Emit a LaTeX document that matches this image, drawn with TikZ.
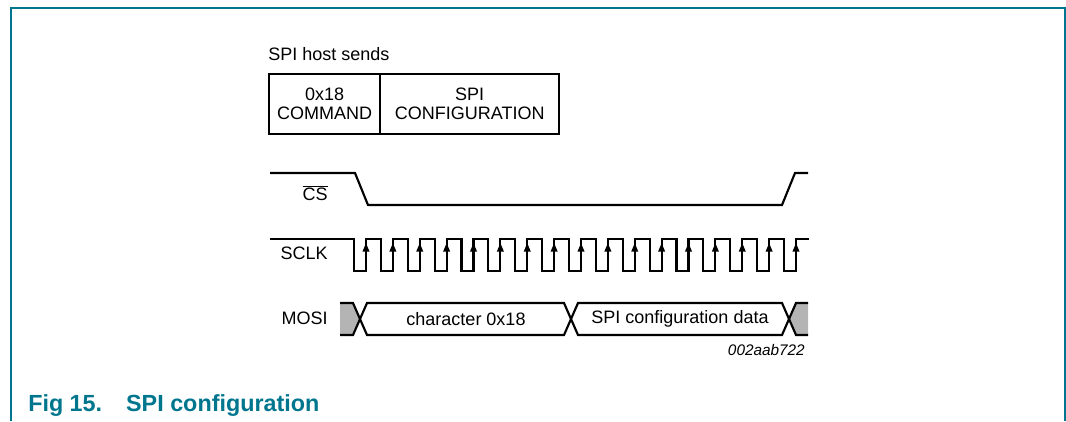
\documentclass[tikz,border=0pt]{standalone}
\usepackage{fontspec}
\setmainfont{Liberation Sans}
\usetikzlibrary{arrows.meta, positioning}
\definecolor{nxpteal}{RGB}{0,118,142}
\definecolor{busgray}{RGB}{180,180,180}

\begin{document}
\begin{tikzpicture}[x = 0.75pt, y = -0.75pt,
	wave/.style = {line width = 1.6pt, line join = miter},
	siglabel/.style = {anchor = east, inner sep = 0pt, font = \fontsize{13.5}{16}\selectfont},
	buslabel/.style = {inner sep = 0pt, font = \fontsize{13.5}{16}\selectfont},
	hostbox/.style = {draw, line width = 1.6pt, minimum height = 45pt, inner sep = 0pt, align = center, font = \fontsize{13.5}{14.25}\selectfont},
	clkarrow/.style = {-{Triangle[length = 6.5pt, width = 5pt]}, line width = 1.2pt}]

	% Definition

	\def\T{26.875}
	\def\hi{239}
	\def\lo{271}
	\def\bt{303}
	\def\bb{335}
	\def\bm{319}

	\useasboundingbox (0, 0) rectangle (1066, 421);

	% Frame and caption

	\draw [nxpteal, line width = 1pt] (11, 421) -- (11, 8) -- (1065, 8) -- (1065, 421);
	\node [anchor = base west, inner sep = 0pt, text = nxpteal, font = \fontsize{17.5}{20}\selectfont\bfseries] (caption) at (28, 411) {Fig 15.\hspace*{18pt}SPI configuration};

	% What the host sends

	\node [anchor = west, inner sep = 0pt, font = \fontsize{13.5}{16}\selectfont] (host) at (268, 54) {SPI host sends};
	\node [hostbox, minimum width = 83.25pt, anchor = north west] (cmd) at (268, 73) {0x18\\COMMAND};
	\node [hostbox, minimum width = 134.5pt, right = -1.6pt of cmd] (cfg) {SPI\\CONFIGURATION};

	% Signal names

	\node [siglabel] (cs) at (328, 193) {$\overline{\mbox{CS}}$};
	\node [siglabel] (sclk) at (328, 253) {SCLK};
	\node [siglabel] (mosi) at (328, 318) {MOSI};

	% CS

	\draw [wave] (270, 173) -- (355, 173) -- (368, 205) -- (782, 205) -- (795, 173) -- (808, 173);

	% SCLK

	\draw [wave] (270, \hi) foreach \k in {0, ..., 16} {
		-- ({354 + \T * \k}, \hi) -- ({354 + \T * \k}, \lo) -- ({366 + \T * \k}, \lo) -- ({366 + \T * \k}, \hi)
	} -- (809, \hi);
	\foreach \k in {0, ..., 16}
		\draw [clkarrow] ({366 + \T * \k}, \lo) -- ({366 + \T * \k}, 243);

	% MOSI

	\fill [busgray] (340, \bt) -- (353, \bt) -- (360, \bm) -- (353, \bb) -- (340, \bb) -- cycle;
	\draw [wave] (340, \bt) -- (353, \bt) -- (360, \bm) -- (353, \bb) -- (340, \bb);
	\draw [wave] (360, \bm) -- (367, \bt) -- (564, \bt) -- (571, \bm) -- (564, \bb) -- (367, \bb) -- cycle;
	\draw [wave] (571, \bm) -- (578, \bt) -- (782, \bt) -- (789, \bm) -- (782, \bb) -- (578, \bb) -- cycle;
	\fill [busgray] (789, \bm) -- (796, \bt) -- (808, \bt) -- (808, \bb) -- (796, \bb) -- cycle;
	\draw [wave] (808, \bt) -- (796, \bt) -- (789, \bm) -- (796, \bb) -- (808, \bb);

	\node [buslabel] (char) at (466, \bm) {character 0x18};
	\node [buslabel] (cfgdata) at (680, \bm) {SPI configuration data};
	\node [anchor = east, inner sep = 0pt, font = \fontsize{11.5}{14}\selectfont\itshape] (ref) at (805, 350) {002aab722};

\end{tikzpicture}
\end{document}
